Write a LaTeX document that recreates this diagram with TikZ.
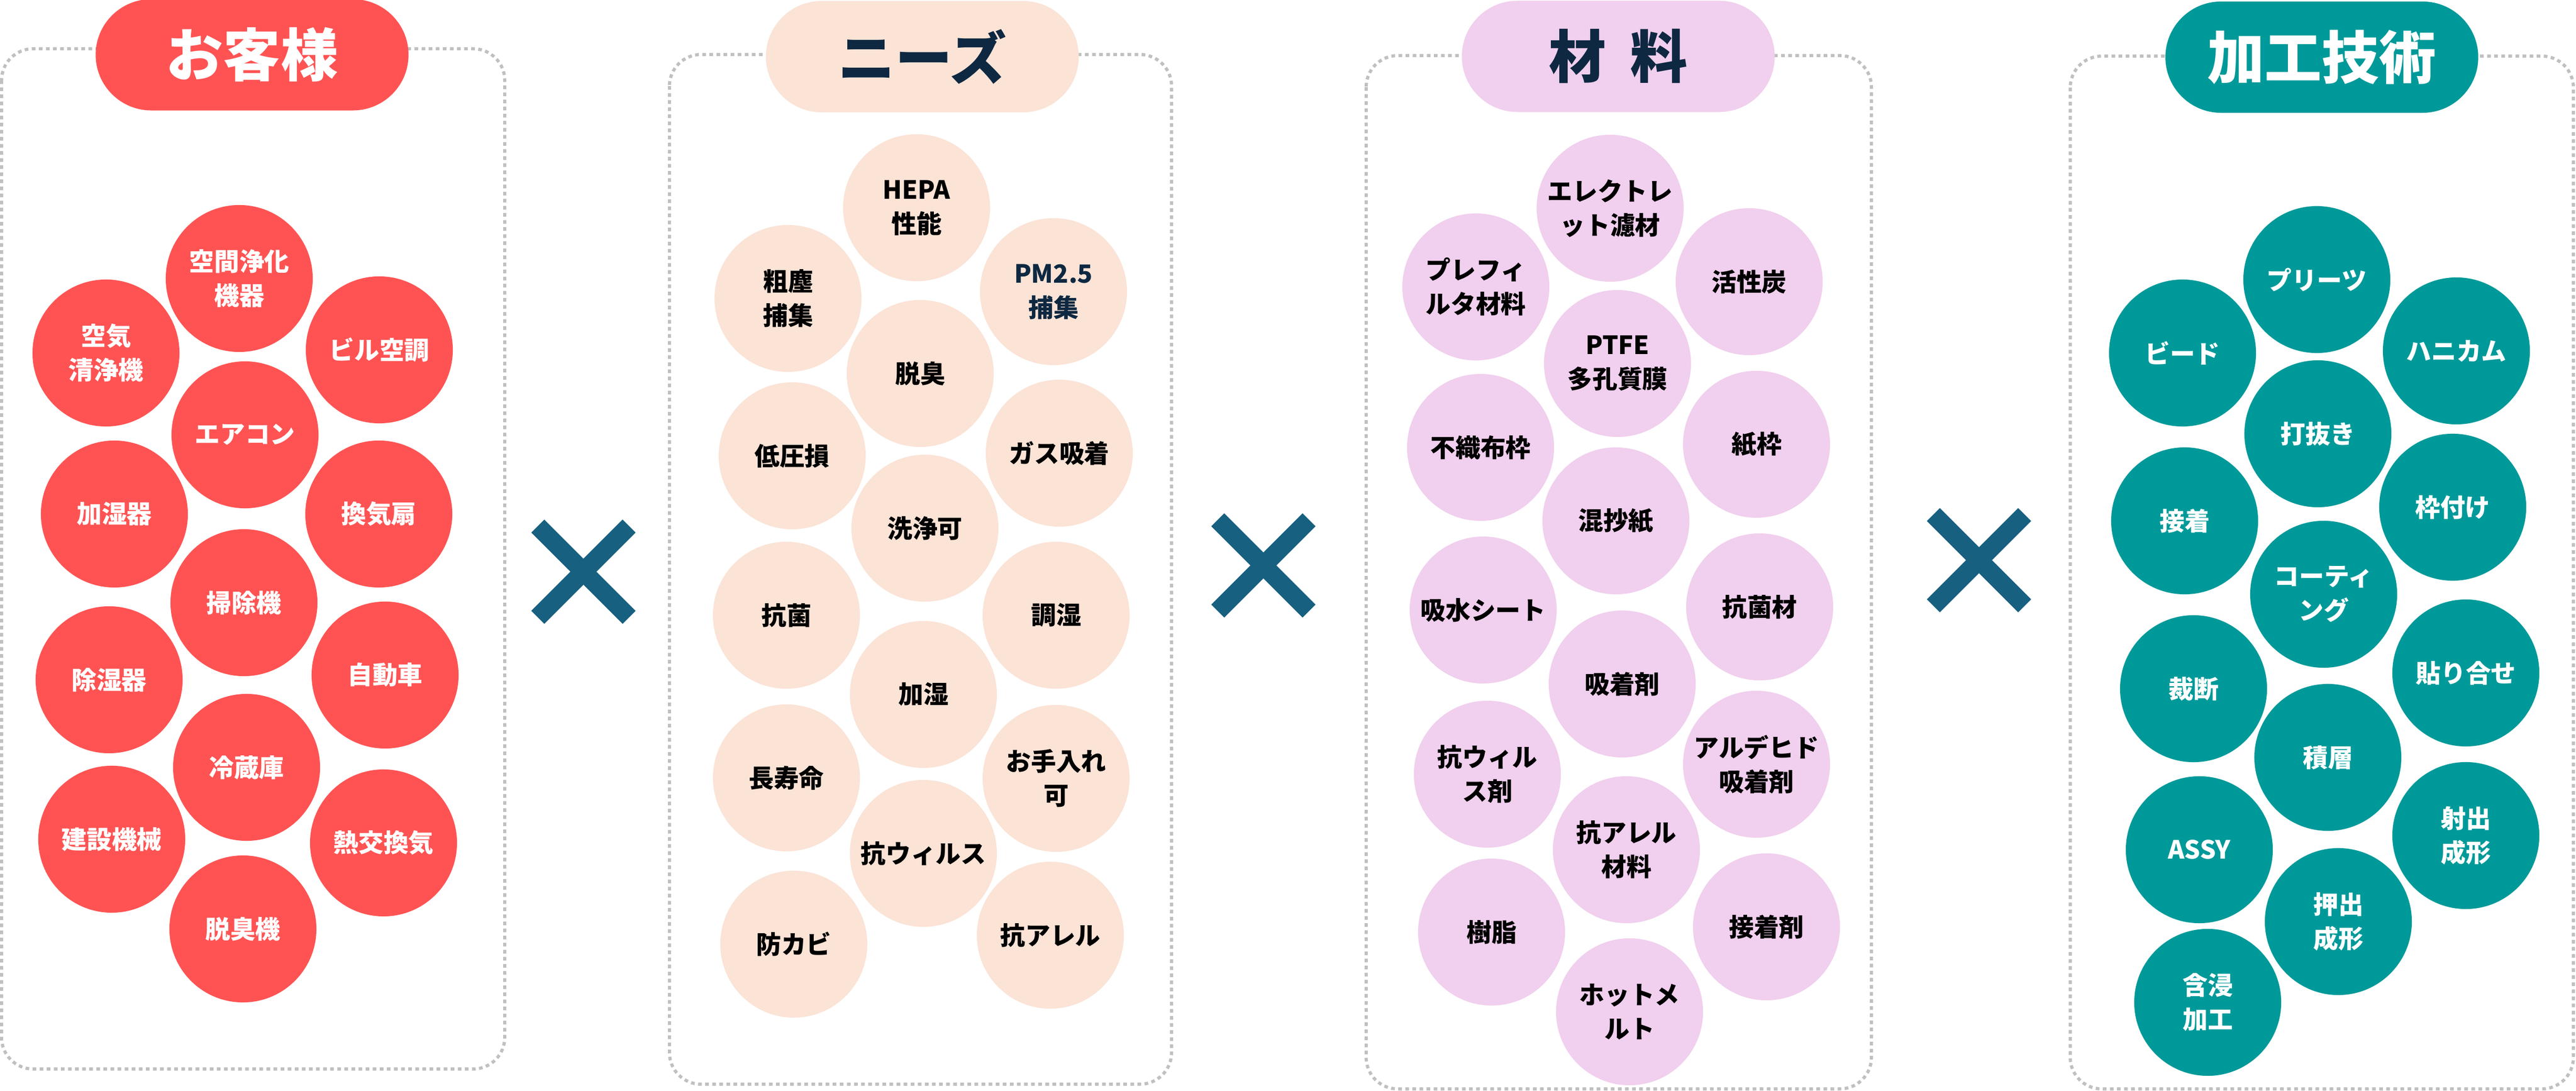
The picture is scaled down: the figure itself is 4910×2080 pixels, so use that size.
\documentclass[tikz,border=0pt]{standalone}
\usepackage{fontspec}
\setmainfont{Noto Sans CJK JP}
\usetikzlibrary{shapes.misc}
\definecolor{cRed}{RGB}{255,83,83}
\definecolor{cPeach}{RGB}{251,227,214}
\definecolor{cPink}{RGB}{241,207,238}
\definecolor{cTeal}{RGB}{0,153,153}
\definecolor{cNavy}{RGB}{14,40,65}
\definecolor{cCross}{RGB}{23,96,128}
\definecolor{cDash}{RGB}{192,192,192}
\tikzset{
  bub/.style={circle, minimum size=2.8cm, inner sep=0pt, align=center,
    font=\fontsize{13.6}{18.5}\selectfont\bfseries},
  bred/.style={bub, fill=cRed, text=white},
  bpeach/.style={bub, fill=cPeach, text=black},
  bpink/.style={bub, fill=cPink, text=black},
  bteal/.style={bub, fill=cTeal, text=white},
  pill/.style={rounded rectangle, minimum width=5.96cm, minimum height=2.12cm, inner sep=0pt,
    font=\fontsize{31}{36}\selectfont\bfseries},
  panelbox/.style={draw=cDash, line width=0.06cm, dash pattern=on 0.07cm off 0.065cm, rounded corners=0.6cm},
  crossbar/.style={draw=cCross, line width=0.35cm},
}
\begin{document}
\begin{tikzpicture}[x=0.01cm,y=-0.01cm]
\useasboundingbox (0,0) rectangle (4910,2080);
\fill[white] (0,0) rectangle (4910,2080);
% panel boxes
\draw[panelbox] (3,93) rectangle (962,2038);
\draw[panelbox] (1276,104) rectangle (2233,2067);
\draw[panelbox] (2604,106) rectangle (3567,2076);
\draw[panelbox] (3946,107) rectangle (4905,2076);
% titles
\node[pill, fill=cRed, text=white] (t1) at (480.5,104.5) {お客様};
\node[pill, fill=cPeach, text=cNavy] (t2) at (1758,108) {ニーズ};
\node[pill, fill=cPink, text=cNavy] (t3) at (3084.5,107.5) {材\hspace{0.42em}料};
\node[pill, fill=cTeal, text=white] (t4) at (4425.5,109) {加工技術};
% panel 1
\node[bred] (a1) at (456,531) {空間浄化\\機器};
\node[bred] (a2) at (202,673) {空気\\清浄機};
\node[bred] (a3) at (723,667) {ビル空調};
\node[bred] (a4) at (467,829) {エアコン};
\node[bred] (a5) at (218,980) {加湿器};
\node[bred] (a6) at (722,980) {換気扇};
\node[bred] (a7) at (465,1149) {掃除機};
\node[bred] (a8) at (208,1296) {除湿器};
\node[bred] (a9) at (734,1287) {自動車};
\node[bred] (a10) at (470,1463) {冷蔵庫};
\node[bred] (a11) at (213,1600) {建設機械};
\node[bred] (a12) at (731,1607) {熱交換気};
\node[bred] (a13) at (463,1771) {脱臭機};
% panel 2
\node[bpeach] (b1) at (1747,396) {HEPA\\性能};
\node[bpeach] (b2) at (1502,569) {粗塵\\捕集};
\node[bpeach, text=cNavy] (b3) at (2008,556) {PM2.5\\捕集};
\node[bpeach] (b4) at (1754,712) {脱臭};
\node[bpeach] (b5) at (1510,869) {低圧損};
\node[bpeach] (b6) at (2019,864) {ガス吸着};
\node[bpeach] (b7) at (1763,1007) {洗浄可};
\node[bpeach] (b8) at (1499,1173) {抗菌};
\node[bpeach] (b9) at (2013,1173) {調湿};
\node[bpeach] (b10) at (1760,1324) {加湿};
\node[bpeach] (b11) at (1499,1483) {長寿命};
\node[bpeach] (b12) at (2013,1484) {お手入れ\\可};
\node[bpeach] (b13) at (1760,1627) {抗ウィルス};
\node[bpeach] (b14) at (1513,1800) {防カビ};
\node[bpeach] (b15) at (2002,1783) {抗アレル};
% panel 3
\node[bpink] (c1) at (3069,397) {エレクトレ\\ット濾材};
\node[bpink] (c2) at (2813,547) {プレフィ\\ルタ材料};
\node[bpink] (c3) at (3334,537) {活性炭};
\node[bpink] (c4) at (3083,693) {PTFE\\多孔質膜};
\node[bpink] (c5) at (2822,853) {不織布枠};
\node[bpink] (c6) at (3348,847) {紙枠};
\node[bpink] (c7) at (3080,993) {混抄紙};
\node[bpink] (c8) at (2827,1163) {吸水シート};
\node[bpink] (c9) at (3354,1157) {抗菌材};
\node[bpink] (c10) at (3092,1304) {吸着剤};
\node[bpink] (c11) at (2835,1476) {抗ウィル\\ス剤};
\node[bpink] (c12) at (3348,1457) {アルデヒド\\吸着剤};
\node[bpink] (c13) at (3100,1620) {抗アレル\\材料};
\node[bpink] (c14) at (2843,1777) {樹脂};
\node[bpink] (c15) at (3367,1767) {接着剤};
\node[bpink] (c16) at (3106,1929) {ホットメ\\ルト};
% panel 4
\node[bteal] (d1) at (4416,533) {プリーツ};
\node[bteal] (d2) at (4160,673) {ビード};
\node[bteal] (d3) at (4682,669) {ハニカム};
\node[bteal] (d4) at (4418,827) {打抜き};
\node[bteal] (d5) at (4164,993) {接着};
\node[bteal] (d6) at (4675,967) {枠付け};
\node[bteal] (d7) at (4429,1133) {コーティ\\ング};
\node[bteal] (d8) at (4181,1313) {裁断};
\node[bteal] (d9) at (4700,1283) {貼り合せ};
\node[bteal] (d10) at (4437,1444) {積層};
\node[bteal] (d11) at (4192,1620) {ASSY};
\node[bteal] (d12) at (4700,1593) {射出\\成形};
\node[bteal] (d13) at (4457,1757) {押出\\成形};
\node[bteal] (d14) at (4208,1911) {含浸\\加工};
% crosses
\foreach \cx/\cy in {1112/1090, 2408/1078, 3772/1068} {
  \draw[crossbar] (\cx-87,\cy-87) -- (\cx+87,\cy+87);
  \draw[crossbar] (\cx-87,\cy+87) -- (\cx+87,\cy-87);
}
\end{tikzpicture}
\end{document}
